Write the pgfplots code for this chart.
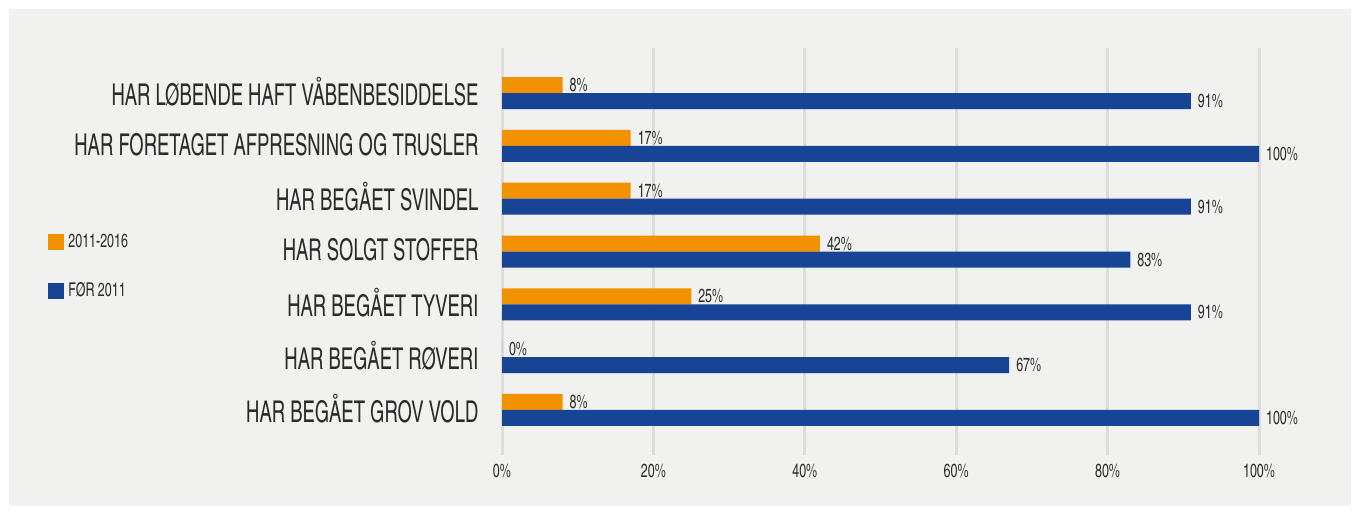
\documentclass[border=0pt]{standalone}
\usepackage{fontspec}
\setmainfont{TeX Gyre Heros Cn}[FakeStretch=0.8]
\newfontfamily\catfont{TeX Gyre Heros Cn}[FakeStretch=0.75]
\usepackage{pgfplots}
\pgfplotsset{compat=1.18}
\definecolor{bg}{HTML}{F1F1EF}
\definecolor{orng}{HTML}{F39200}
\definecolor{blu}{HTML}{184496}
\definecolor{grd}{HTML}{DCDCDA}
\definecolor{txt}{HTML}{2B2B2B}
\begin{document}
\begin{tikzpicture}[x=1pt,y=1pt]
\fill[white] (0,0) rectangle (680,257.5);
\fill[bg] (4.5,4.5) rectangle (675.5,253);
\begin{axis}[
 at={(251pt,30pt)}, anchor=south west,
 scale only axis, width=378.5pt, height=203.5pt,
 xmin=0, xmax=100, ymin=0.148, ymax=7.852,
 clip=false,
 axis line style={draw=none},
 tick style={draw=none},
 xmajorgrids, grid style={grd, line width=1.5pt},
 xtick={0,20,40,60,80,100},
 xticklabels={0\%,20\%,40\%,60\%,80\%,100\%},
 ytick={1,...,7},
 yticklabels={HAR BEGÅET GROV VOLD, HAR BEGÅET RØVERI, HAR BEGÅET TYVERI, HAR SOLGT STOFFER, HAR BEGÅET SVINDEL, HAR FORETAGET AFPRESNING OG TRUSLER, HAR LØBENDE HAFT VÅBENBESIDDELSE},
 ticklabel style={text=txt},
 xticklabel style={font=\fontsize{9.5}{10}\selectfont, yshift=-1pt},
 yticklabel style={font=\catfont\fontsize{15}{17}\selectfont, xshift=-4pt, yshift=0.8pt},
 xbar, bar width=8pt,
 point meta=x,
 nodes near coords={\pgfmathprintnumber[assume math mode=true]{\pgfplotspointmeta}\%},
 nodes near coords style={font=\fontsize{9.5}{10}\selectfont, text=txt, anchor=west},
 legend style={at={(-0.5997,0.463)}, anchor=west, draw=none, fill=none, inner sep=0pt,
   font=\fontsize{9.5}{10}\selectfont, text=txt, row sep=12pt, cells={anchor=west}},
 legend cell align=left,
 legend image code/.code={\fill[#1] (0pt,-4pt) rectangle (8pt,4pt);},
]
\addplot[fill=orng, draw=none, bar shift=4pt] coordinates {(8,7) (17,6) (17,5) (42,4) (25,3) (0,2) (8,1)};
\addplot[fill=blu, draw=none, bar shift=-4pt] coordinates {(91,7) (100,6) (91,5) (83,4) (91,3) (67,2) (100,1)};
\legend{2011-2016, FØR 2011}
\end{axis}
\end{tikzpicture}
\end{document}
